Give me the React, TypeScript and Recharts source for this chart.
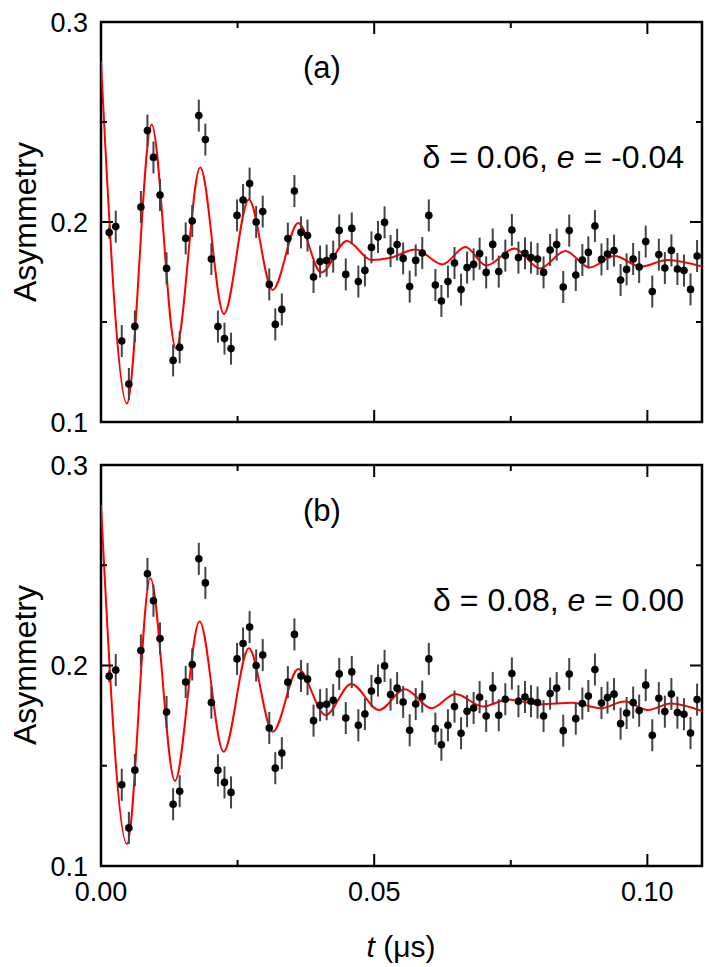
import React from 'react';
import { ComposedChart, XAxis, YAxis, Line, Scatter, ErrorBar, ReferenceArea } from 'recharts';

// time of each muSR point (us)
const T = [
    0.0015, 0.0027, 0.0038, 0.0051, 0.0062, 0.0073, 0.0085, 0.0096, 0.0108, 0.0120,
    0.0132, 0.0144, 0.0155, 0.0167, 0.0179, 0.0191, 0.0202, 0.0214, 0.0226, 0.0238,
    0.0249, 0.0260, 0.0272, 0.0284, 0.0296, 0.0308, 0.0319, 0.0331, 0.0342, 0.0354,
    0.0366, 0.0378, 0.0389, 0.0401, 0.0413, 0.0425, 0.0436, 0.0448, 0.0459, 0.0471,
    0.0483, 0.0495, 0.0507, 0.0519, 0.0530, 0.0542, 0.0553, 0.0565, 0.0576, 0.0588,
    0.0600, 0.0612, 0.0623, 0.0635, 0.0647, 0.0659, 0.0670, 0.0682, 0.0693, 0.0705,
    0.0717, 0.0728, 0.0740, 0.0752, 0.0764, 0.0776, 0.0787, 0.0799, 0.0810, 0.0822,
    0.0834, 0.0846, 0.0857, 0.0869, 0.0881, 0.0892, 0.0904, 0.0916, 0.0927, 0.0939,
    0.0951, 0.0962, 0.0974, 0.0985, 0.0997, 0.1009, 0.1021, 0.1032, 0.1044, 0.1055,
    0.1067, 0.1079, 0.1091,
];

const ASYM = [
    0.1947, 0.1977, 0.1405, 0.1190, 0.1478, 0.2075, 0.2457, 0.2323, 0.2135, 0.1768,
    0.1308, 0.1373, 0.1918, 0.2005, 0.2532, 0.2412, 0.1815, 0.1477, 0.1417, 0.1367,
    0.2033, 0.2110, 0.2192, 0.2000, 0.2052, 0.1688, 0.1488, 0.1563, 0.1917, 0.2155,
    0.1948, 0.1932, 0.1725, 0.1802, 0.1807, 0.1827, 0.1958, 0.1738, 0.1968, 0.1702,
    0.1758, 0.1873, 0.1925, 0.1998, 0.1855, 0.1887, 0.1818, 0.1677, 0.1808, 0.1845,
    0.2033, 0.1685, 0.1605, 0.1702, 0.1795, 0.1662, 0.1772, 0.1788, 0.1842, 0.1748,
    0.1888, 0.1752, 0.1832, 0.1960, 0.1822, 0.1843, 0.1822, 0.1815, 0.1748, 0.1860,
    0.1887, 0.1675, 0.1957, 0.1735, 0.1810, 0.1848, 0.1980, 0.1813, 0.1840, 0.1857,
    0.1710, 0.1763, 0.1815, 0.1775, 0.1902, 0.1652, 0.1837, 0.1770, 0.1858, 0.1765,
    0.1757, 0.1663, 0.1830,
];

const ERR = [
    0.003, 0.008, 0.008, 0.008, 0.008, 0.008, 0.008, 0.008, 0.008, 0.008,
    0.008, 0.008, 0.008, 0.008, 0.008, 0.008, 0.008, 0.008, 0.008, 0.008,
    0.008, 0.008, 0.008, 0.008, 0.008, 0.008, 0.008, 0.008, 0.008, 0.008,
    0.008, 0.008, 0.008, 0.008, 0.008, 0.008, 0.008, 0.008, 0.008, 0.008,
    0.008, 0.008, 0.008, 0.008, 0.008, 0.008, 0.008, 0.008, 0.008, 0.008,
    0.008, 0.008, 0.008, 0.008, 0.008, 0.008, 0.008, 0.008, 0.008, 0.008,
    0.008, 0.008, 0.008, 0.008, 0.008, 0.008, 0.008, 0.008, 0.008, 0.008,
    0.008, 0.008, 0.008, 0.008, 0.008, 0.008, 0.008, 0.008, 0.008, 0.008,
    0.008, 0.008, 0.008, 0.008, 0.008, 0.008, 0.008, 0.008, 0.008, 0.008,
    0.008, 0.008, 0.008,
];

// fit curve (a): delta = 0.06, e = -0.04 (turning points)
const FIT_A_T = [
    0, 0.00475, 0.00926, 0.01371, 0.01816, 0.02249, 0.02706, 0.0314, 0.0361, 0.0403,
    0.045, 0.0495, 0.0528, 0.0576, 0.0625, 0.0667, 0.0705, 0.0757, 0.0803, 0.085,
    0.0894, 0.094, 0.0988, 0.1037, 0.11,
];
const FIT_A_Y = [
    0.28, 0.1093, 0.2488, 0.1368, 0.2272, 0.154, 0.2113, 0.166, 0.1995, 0.1747,
    0.1905, 0.181, 0.182, 0.1862, 0.1788, 0.1875, 0.1782, 0.1868, 0.1768, 0.1855,
    0.1772, 0.183, 0.1777, 0.181, 0.1777,
];

// fit curve (b): delta = 0.08, e = 0.00
const FIT_B_T = [
    0, 0.00475, 0.00902, 0.01353, 0.01804, 0.02243, 0.02706, 0.03144, 0.0361, 0.0411,
    0.0458, 0.0509, 0.0556, 0.0605, 0.0649, 0.0699, 0.0745, 0.0803, 0.0863, 0.0915,
    0.0958, 0.1001, 0.1043, 0.11,
];
const FIT_B_Y = [
    0.28, 0.111, 0.2435, 0.1425, 0.2219, 0.157, 0.2086, 0.167, 0.1982, 0.1753,
    0.1908, 0.1778, 0.1881, 0.1787, 0.1858, 0.1795, 0.1831, 0.1806, 0.1814, 0.1787,
    0.182, 0.1778, 0.1811, 0.1773,
];

const X_TICKS = [0, 0.025, 0.05, 0.075, 0.1];
const Y_TICKS = [0.1, 0.15, 0.2, 0.25, 0.3];

const points = T.map((t, i) => ({ t, y: ASYM[i], err: ERR[i] }));
const fitA = FIT_A_T.map((t, i) => ({ t, y: FIT_A_Y[i] }));
const fitB = FIT_B_T.map((t, i) => ({ t, y: FIT_B_Y[i] }));

const FONT = '"Liberation Sans", Arial, Helvetica, sans-serif';
const W = 705;
const LEFT = 101;
const RIGHT = 702;
const TOP = 22;

const isMajor = (v: number, step: number) => Math.abs(v / step - Math.round(v / step)) < 1e-6;

const XTick = (props: any) => {
    const { x, plotH, showLabel } = props;
    const v = props.payload.value;
    const major = isMajor(v, 0.05);
    const len = major ? 12 : 6;
    const bottom = TOP + plotH;
    return (
        <g>
            <line x1={x} x2={x} y1={bottom} y2={bottom - len} stroke="#000" strokeWidth={2} />
            <line x1={x} x2={x} y1={TOP} y2={TOP + len} stroke="#000" strokeWidth={2} />
            {showLabel && major && (
                <text x={x} y={bottom + 35} textAnchor="middle" fontSize={27} fontFamily={FONT} fill="#000">
                    {v.toFixed(2)}
                </text>
            )}
        </g>
    );
};

const YTick = (props: any) => {
    const { y } = props;
    const v = props.payload.value;
    const major = isMajor(v, 0.1);
    const len = major ? 12 : 6;
    return (
        <g>
            <line x1={LEFT} x2={LEFT + len} y1={y} y2={y} stroke="#000" strokeWidth={2} />
            <line x1={RIGHT} x2={RIGHT - len} y1={y} y2={y} stroke="#000" strokeWidth={2} />
            {major && (
                <text x={88} y={y + 9.5} textAnchor="end" fontSize={27} fontFamily={FONT} fill="#000">
                    {v.toFixed(1)}
                </text>
            )}
        </g>
    );
};

const Dot = (props: any) => <circle cx={props.cx} cy={props.cy} r={3.8} fill="#000" />;
const NoShape = () => <g />;

interface PanelProps {
    top: number;
    height: number;
    plotH: number;
    fit: { t: number; y: number }[];
    showXLabels: boolean;
}

const Panel: React.FC<PanelProps> = ({ top, height, plotH, fit, showXLabels }) => (
    <div style={{ position: 'absolute', left: 0, top }}>
        <ComposedChart
            width={W}
            height={height}
            margin={{ top: TOP, right: W - RIGHT, bottom: height - TOP - plotH - 1, left: 0 }}
        >
            <XAxis
                type="number"
                dataKey="t"
                domain={[0, 0.11]}
                ticks={X_TICKS}
                interval={0}
                height={1}
                tickSize={0}
                tickMargin={0}
                tickLine={false}
                axisLine={false}
                allowDataOverflow
                tick={(p: any) => <XTick {...p} plotH={plotH} showLabel={showXLabels} />}
            />
            <YAxis
                type="number"
                dataKey="y"
                domain={[0.1, 0.3]}
                ticks={Y_TICKS}
                interval={0}
                width={LEFT}
                tickSize={0}
                tickMargin={0}
                tickLine={false}
                axisLine={false}
                allowDataOverflow
                tick={(p: any) => <YTick {...p} />}
            />
            <Line
                data={fit}
                dataKey="y"
                type="monotone"
                stroke="#ff0000"
                strokeWidth={2}
                dot={false}
                activeDot={false}
                isAnimationActive={false}
            />
            <Scatter data={points} dataKey="y" shape={NoShape} isAnimationActive={false}>
                <ErrorBar dataKey="err" direction="y" width={0} stroke="#444" strokeWidth={2} isAnimationActive={false} />
            </Scatter>
            <Scatter data={points} dataKey="y" shape={Dot} isAnimationActive={false} />
            <ReferenceArea
                x1={0}
                x2={0.11}
                y1={0.1}
                y2={0.3}
                fill="none"
                fillOpacity={0}
                stroke="#000"
                strokeWidth={2.5}
                ifOverflow="visible"
            />
        </ComposedChart>
    </div>
);

export default function App() {
    const textStyle = { fontFamily: FONT, fill: '#000' };
    return (
        <div style={{ position: 'absolute', left: 0, top: 0, width: W, height: 967, background: '#fff' }}>
            <Panel top={0} height={443} plotH={400} fit={fitA} showXLabels={false} />
            <Panel top={443} height={524} plotH={401} fit={fitB} showXLabels={true} />
            <svg width={W} height={967} style={{ position: 'absolute', left: 0, top: 0, pointerEvents: 'none' }}>
                <text x={322} y={78} textAnchor="middle" fontSize={31} {...textStyle}>(a)</text>
                <text x={322} y={521} textAnchor="middle" fontSize={31} {...textStyle}>(b)</text>
                <text x={684} y={168} textAnchor="end" fontSize={32} {...textStyle}>
                    δ = 0.06, <tspan fontStyle="italic">e</tspan> = -0.04
                </text>
                <text x={684} y={611} textAnchor="end" fontSize={32} {...textStyle}>
                    δ = 0.08, <tspan fontStyle="italic">e</tspan> = 0.00
                </text>
                <text x={36} y={222} transform="rotate(-90 36 222)" textAnchor="middle" fontSize={32} {...textStyle}>
                    Asymmetry
                </text>
                <text x={36} y={665} transform="rotate(-90 36 665)" textAnchor="middle" fontSize={32} {...textStyle}>
                    Asymmetry
                </text>
                <text x={401} y={957} textAnchor="middle" fontSize={30} {...textStyle}>
                    <tspan fontStyle="italic">t</tspan> (μs)
                </text>
            </svg>
        </div>
    );
}
